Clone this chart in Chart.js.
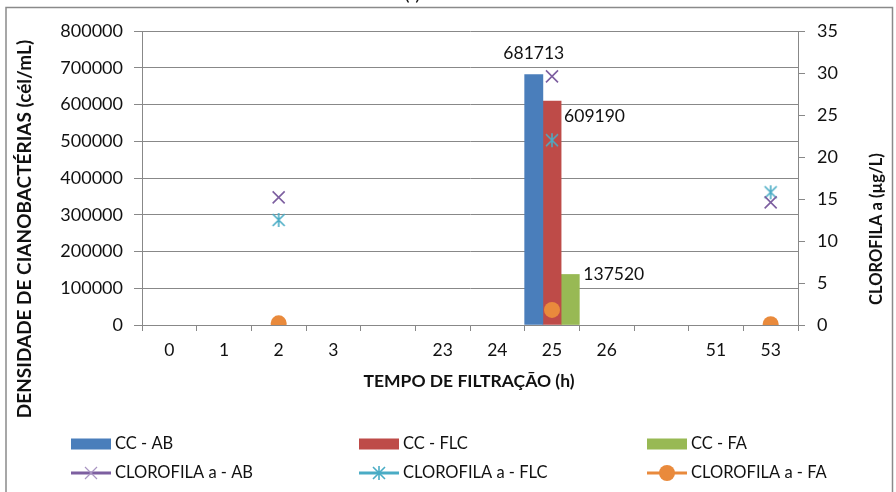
<!DOCTYPE html>
<html>
<head>
<meta charset="utf-8">
<script src="https://cdn.jsdelivr.net/npm/chart.js@4.4.0/dist/chart.umd.min.js"></script>
<style>
  html, body { margin: 0; padding: 0; background: #fff; }
  canvas { display: block; }
</style>
</head>
<body>
<canvas id="chart" width="896" height="492"></canvas>
<script>
// data
const categories = ['0', '1', '2', '3', '', '23', '24', '25', '26', '', '51', '53'];
const ccAB  = [null, null, null, null, null, null, null, 681713, null, null, null, null];
const ccFLC = [null, null, null, null, null, null, null, 609190, null, null, null, null];
const ccFA  = [null, null, null, null, null, null, null, 137520, null, null, null, null];
const chlAB  = [null, null, 15.2, null, null, null, null, 29.6, null, null, null, 14.6];
const chlFLC = [null, null, 12.5, null, null, null, null, 22.0, null, null, null, 15.8];
const chlFA  = [null, null, 0.2, null, null, null, null, 1.8, null, null, null, 0.1];
const densityTicks = [0, 800000, 100000];   // min, max, step
const chlTicks = [0, 35, 5];

const FONT = 'Lato';
const textColor = '#111111';
const gridColor = '#888888';
const colors = {
  ab: '#4a7ebb', flc: '#be4b48', fa: '#98b954',
  chlAB: '#7d5fa0', chlFLC: '#4aacc5', chlFA: '#e98a3c'
};

// Excel style star marker: X plus vertical bar
function starMarker(color) {
  const c = document.createElement('canvas');
  c.width = 16; c.height = 16;
  const g = c.getContext('2d');
  g.strokeStyle = color;
  g.lineWidth = 1.6;
  g.beginPath();
  g.moveTo(2, 2); g.lineTo(14, 14);
  g.moveTo(14, 2); g.lineTo(2, 14);
  g.moveTo(8, 1); g.lineTo(8, 15);
  g.stroke();
  return c;
}
const starImg = starMarker(colors.chlFLC);

// frame + cut-off title
const framePlugin = {
  id: 'frame',
  beforeDraw(chart) {
    const ctx = chart.ctx;
    ctx.save();
    ctx.fillStyle = '#fff';
    ctx.fillRect(0, 0, chart.width, chart.height);
    ctx.strokeStyle = '#8a8a8a';
    ctx.lineWidth = 1.5;
    ctx.strokeRect(6, 7.5, 886.5, 500);
    ctx.fillStyle = textColor;
    ctx.font = '20px ' + FONT;
    ctx.textAlign = 'center';
    ctx.textBaseline = 'alphabetic';
    ctx.fillText('(I)', 412.5, 0);
    ctx.restore();
  }
};

// axis titles
const axisTitles = {
  id: 'axisTitles',
  afterDraw(chart) {
    const ctx = chart.ctx;
    ctx.save();
    ctx.fillStyle = textColor;
    ctx.textAlign = 'center';
    ctx.textBaseline = 'middle';
    ctx.font = 'bold 17.5px ' + FONT;
    ctx.fillText('TEMPO DE FILTRAÇÃO (h)', 469, 381);
    ctx.translate(25, 229);
    ctx.rotate(-Math.PI / 2);
    ctx.font = 'bold 19px ' + FONT;
    ctx.fillText('DENSIDADE DE CIANOBACTÉRIAS (cél/mL)', 0, 0);
    ctx.restore();
    ctx.save();
    ctx.fillStyle = textColor;
    ctx.font = 'bold 16.5px ' + FONT;
    ctx.textAlign = 'center';
    ctx.textBaseline = 'middle';
    ctx.translate(877, 229);
    ctx.rotate(-Math.PI / 2);
    ctx.fillText('CLOROFILA a (µg/L)', 0, 0);
    ctx.restore();
  }
};

// value labels on the bars (placed the way the original has them)
const barLabels = {
  id: 'barLabels',
  afterDatasetsDraw(chart) {
    const ctx = chart.ctx;
    ctx.save();
    ctx.fillStyle = textColor;
    ctx.font = '17.5px ' + FONT;
    ctx.textBaseline = 'middle';
    chart.data.datasets.forEach((ds, i) => {
      if (ds.type !== 'bar') return;
      const meta = chart.getDatasetMeta(i);
      meta.data.forEach((bar, j) => {
        const v = ds.data[j];
        if (v == null) return;
        const right = bar.x + bar.width / 2;
        if (ds.labelPos === 'top') {
          ctx.textAlign = 'center';
          ctx.fillText(String(v), bar.x, bar.y - 21);
        } else if (ds.labelPos === 'rightLow') {
          ctx.textAlign = 'left';
          ctx.fillText(String(v), right + 3, bar.y + 15);
        } else {
          ctx.textAlign = 'left';
          ctx.fillText(String(v), right + 4, bar.y);
        }
      });
    });
    ctx.restore();
  }
};

// legend in three columns, two rows
const gridLegend = {
  id: 'gridLegend',
  afterDraw(chart) {
    const ctx = chart.ctx;
    const cols = [71, 359, 647];
    const rows = [444, 473];
    ctx.save();
    ctx.font = '16.5px ' + FONT;
    ctx.textBaseline = 'middle';
    ctx.textAlign = 'left';
    chart.data.datasets.forEach(ds => {
      const x = cols[ds.legendIdx % 3];
      const y = rows[Math.floor(ds.legendIdx / 3)];
      if (ds.type === 'bar') {
        ctx.fillStyle = ds.backgroundColor;
        ctx.fillRect(x, y - 5.5, 40, 11);
      } else {
        ctx.strokeStyle = ds.borderColor;
        ctx.lineWidth = 3;
        ctx.beginPath();
        ctx.moveTo(x, y);
        ctx.lineTo(x + 40, y);
        ctx.stroke();
        if (ds.pointStyle === 'circle') {
          ctx.fillStyle = ds.pointBackgroundColor;
          ctx.beginPath();
          ctx.arc(x + 20, y, ds.pointRadius, 0, Math.PI * 2);
          ctx.fill();
        } else if (ds.pointStyle === 'crossRot') {
          ctx.lineWidth = 1.2;
          ctx.strokeStyle = '#a995c2';
          const o = ds.pointRadius * Math.SQRT1_2;
          ctx.beginPath();
          ctx.moveTo(x + 20 - o, y - o); ctx.lineTo(x + 20 + o, y + o);
          ctx.moveTo(x + 20 + o, y - o); ctx.lineTo(x + 20 - o, y + o);
          ctx.stroke();
        } else {
          ctx.drawImage(ds.pointStyle, x + 12, y - 8);
        }
      }
      ctx.fillStyle = textColor;
      ctx.fillText(ds.label, x + 44, y);
    });
    ctx.restore();
  }
};

const ctx = document.getElementById('chart').getContext('2d');
const chart = new Chart(ctx, {
  type: 'bar',
  data: {
    labels: categories,
    datasets: [
      { type: 'bar', label: 'CC - AB', data: ccAB, backgroundColor: colors.ab, yAxisID: 'y',
        order: 2, legendIdx: 0, labelPos: 'top', categoryPercentage: 1, barPercentage: 1 },
      { type: 'bar', label: 'CC - FLC', data: ccFLC, backgroundColor: colors.flc, yAxisID: 'y',
        order: 2, legendIdx: 1, labelPos: 'rightLow', categoryPercentage: 1, barPercentage: 1 },
      { type: 'bar', label: 'CC - FA', data: ccFA, backgroundColor: colors.fa, yAxisID: 'y',
        order: 2, legendIdx: 2, labelPos: 'right', categoryPercentage: 1, barPercentage: 1 },
      { type: 'line', label: 'CLOROFILA a - AB', data: chlAB, yAxisID: 'y1', showLine: false,
        borderColor: colors.chlAB, pointStyle: 'crossRot', pointRadius: 8.5, pointBorderWidth: 1.6,
        pointBorderColor: colors.chlAB, pointHoverRadius: 8.5, order: 1, legendIdx: 3 },
      { type: 'line', label: 'CLOROFILA a - FLC', data: chlFLC, yAxisID: 'y1', showLine: false,
        borderColor: colors.chlFLC, pointStyle: starImg, pointRadius: 8, order: 1, legendIdx: 4 },
      { type: 'line', label: 'CLOROFILA a - FA', data: chlFA, yAxisID: 'y1', showLine: false,
        borderColor: colors.chlFA, pointStyle: 'circle', pointRadius: 8, pointBorderWidth: 0,
        pointBackgroundColor: colors.chlFA, pointBorderColor: colors.chlFA, order: 1, legendIdx: 5 }
    ]
  },
  options: {
    responsive: false,
    animation: false,
    layout: { padding: { top: 31, left: 0, right: 0, bottom: 0 } },
    plugins: { legend: { display: false }, tooltip: { enabled: false } },
    scales: {
      x: {
        offset: true,
        grid: { drawOnChartArea: false, drawTicks: true, tickLength: 6, color: gridColor, offset: true },
        border: { color: gridColor },
        ticks: { color: textColor, font: { family: FONT, size: 17.5 }, padding: 9, maxRotation: 0, autoSkip: false },
        afterFit: s => { s.height = 492 - 325; }
      },
      y: {
        position: 'left',
        min: densityTicks[0], max: densityTicks[1],
        grid: { color: gridColor, tickLength: 8 },
        border: { color: gridColor },
        ticks: { stepSize: densityTicks[2], color: textColor, font: { family: FONT, size: 18 }, padding: 11,
                 callback: v => String(v) },
        afterFit: s => { s.width = 142; }
      },
      y1: {
        position: 'right',
        min: chlTicks[0], max: chlTicks[1],
        grid: { drawOnChartArea: false, color: gridColor, tickLength: 7 },
        border: { color: gridColor },
        ticks: { stepSize: chlTicks[2], color: textColor, font: { family: FONT, size: 18 }, padding: 12,
                 callback: v => String(v) },
        afterFit: s => { s.width = 98; }
      }
    }
  },
  plugins: [framePlugin, axisTitles, barLabels, gridLegend]
});
</script>
</body>
</html>
